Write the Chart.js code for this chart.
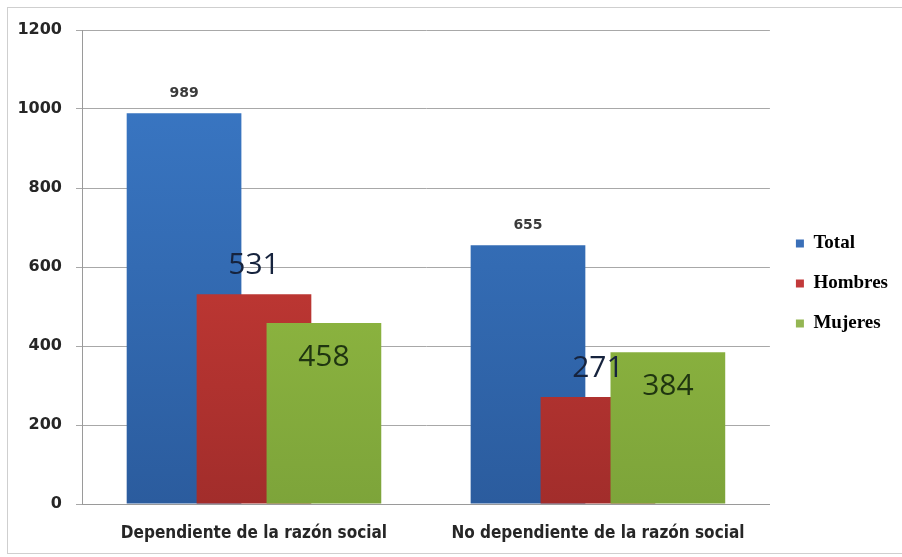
<!DOCTYPE html>
<html>
<head>
<meta charset="utf-8">
<script src="https://cdn.jsdelivr.net/npm/chart.js@4.4.1/dist/chart.umd.min.js"></script>
<style>
  body { margin: 0; background: #fff; }
  #marco {
    position: absolute; left: 7px; top: 7px; width: 900px; height: 545px;
    border: 1px solid #cfcfcf; border-right: none;
  }
  #wrap { position: absolute; left: 0; top: 0; width: 902px; height: 557px; }
</style>
</head>
<body>
<div id="marco"></div>
<div id="wrap"><canvas id="grafica"></canvas></div>
<script>
const categorias = ['Dependiente de la razón social', 'No dependiente de la razón social'];
const series = ['Total', 'Hombres', 'Mujeres'];
const total = [989, 655];
const hombres = [531, 271];
const mujeres = [458, 384];
const ticksY = [0, 200, 400, 600, 800, 1000, 1200];

// degradado vertical de cada serie (arriba, abajo)
const colores = {
    Total: ['#3b7ac8', '#2b5c9e'],
    Hombres: ['#da413b', '#a22d2b'],
    Mujeres: ['#9fc846', '#7da43a']
};
const planos = { Total: '#3a6fb8', Hombres: '#c2393a', Mujeres: '#94b653' };

function degradado(nombre) {
    return ctx => {
        const area = ctx.chart.chartArea;
        if (!area) return colores[nombre][0];
        const g = ctx.chart.ctx.createLinearGradient(0, area.top, 0, area.bottom);
        g.addColorStop(0, colores[nombre][0]);
        g.addColorStop(1, colores[nombre][1]);
        return g;
    };
}

// barras solapadas: se pintan en orden (Total abajo, Mujeres encima)
const ordenBarras = {
    id: 'ordenBarras',
    beforeDatasetsDraw(chart) {
        chart.getSortedVisibleDatasetMetas()
            .sort((a, b) => a.index - b.index)
            .forEach(meta => meta.controller.draw());
        return false;
    }
};

// la leyenda se corre un poco a la derecha y hacia arriba
const moverLeyenda = {
    id: 'moverLeyenda',
    afterLayout(chart) {
        const l = chart.legend;
        l.top -= 10;
        l.bottom -= 10;
        l.left += 5;
        l.right += 5;
    }
};

// etiquetas de valor: cada serie con su estilo
const etiquetas = {
    id: 'etiquetas',
    afterDraw(chart) {
        const c = chart.ctx;
        const estilos = [
            { font: 'bold 14px "DejaVu Sans"', color: '#3a3a3a', dy: -20 },
            { font: '30px "Open Sans"', color: '#16233d', dy: -29 },
            { font: '30px "Open Sans"', color: '#1f3510', dy: 34 }
        ];
        c.save();
        c.textAlign = 'center';
        c.textBaseline = 'middle';
        chart.data.datasets.forEach((ds, i) => {
            const meta = chart.getDatasetMeta(i);
            meta.data.forEach((bar, j) => {
                c.font = estilos[i].font;
                c.fillStyle = estilos[i].color;
                c.fillText(ds.data[j], bar.x, bar.y + estilos[i].dy);
            });
        });
        c.restore();
    }
};

const datos = [total, hombres, mujeres];

new Chart(document.getElementById('grafica'), {
    type: 'bar',
    data: {
        labels: categorias,
        datasets: series.map((s, i) => ({
            label: s,
            data: datos[i],
            backgroundColor: degradado(s),
            categoryPercentage: 0.61,
            barPercentage: 1.64
        }))
    },
    options: {
        responsive: true,
        maintainAspectRatio: false,
        animation: false,
        layout: { padding: { top: 30, right: 9, bottom: 0, left: 0 } },
        scales: {
            x: {
                grid: { display: false },
                border: { color: '#9a9a9a' },
                ticks: { color: '#262626', font: { family: 'DejaVu Sans Condensed', weight: 'bold', size: 17 }, padding: 11 },
                afterFit: s => { s.height = 53; }
            },
            y: {
                min: 0, max: 1200,
                afterBuildTicks: s => { s.ticks = ticksY.map(v => ({ value: v })); },
                grid: { color: '#a8a8a8', tickLength: 6 },
                border: { color: '#9a9a9a' },
                ticks: {
                    color: '#262626', font: { family: 'DejaVu Sans', weight: 'bold', size: 16 }, padding: 14,
                    callback: v => String(v)
                },
                afterFit: s => { s.width = 82; }
            }
        },
        plugins: {
            tooltip: { enabled: false },
            legend: {
                position: 'right',
                labels: {
                    boxWidth: 8, boxHeight: 8, padding: 21,
                    color: '#333333',
                    font: { family: 'Liberation Serif', weight: 'bold', size: 19 },
                    generateLabels: chart => series.map((s, i) => ({
                        text: s, fillStyle: planos[s], strokeStyle: planos[s], lineWidth: 0,
                        datasetIndex: i, hidden: false
                    }))
                }
            }
        }
    },
    plugins: [ordenBarras, moverLeyenda, etiquetas]
});
</script>
</body>
</html>
